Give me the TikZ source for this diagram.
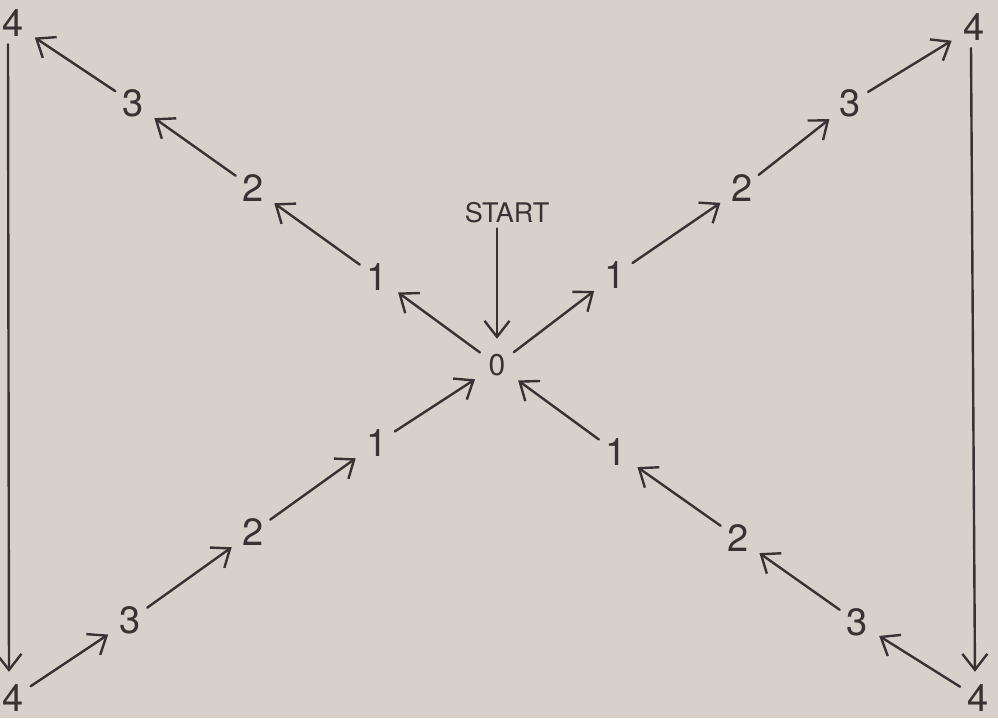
\documentclass[tikz,border=0pt]{standalone}
\usepackage{fontspec}
\setmainfont{TeX Gyre Heros}
\usetikzlibrary{arrows.meta}
\definecolor{paper}{RGB}{216,209,203}
\definecolor{ink}{RGB}{56,50,52}
\tikzset{
  lbl/.style={circle, inner sep=0pt, minimum size=42pt, text=ink, font=\fontsize{38}{38}\selectfont},
  conn/.style={draw=ink, line width=2.4pt, line cap=round, shorten >=5pt,
    -{Straight Barb[length=16pt,width=25pt,line width=2.4pt]}},
}
\begin{document}
\begin{tikzpicture}[x=1pt,y=-1pt]
\fill[paper] (0,0) rectangle (998,718);
\useasboundingbox (0,0) rectangle (998,718);
% centre and start
\node[lbl, font=\fontsize{30}{30}\selectfont] (zero) at (497,365) {0};
\node[text=ink, font=\fontsize{27}{27}\selectfont, inner sep=2pt] (start) at (507,213) {START};
% top-left branch
\node[lbl] (t1) at (377,277) {1};
\node[lbl] (t2) at (253,188) {2};
\node[lbl] (t3) at (133,103) {3};
\node[lbl] (t4) at (13,23) {4};
% top-right branch
\node[lbl] (r1) at (615,275) {1};
\node[lbl] (r2) at (742,188) {2};
\node[lbl] (r3) at (850,103) {3};
\node[lbl] (r4) at (974,27) {4};
% bottom-left branch
\node[lbl] (b1) at (377,443) {1};
\node[lbl] (b2) at (253,532) {2};
\node[lbl] (b3) at (130,620) {3};
\node[lbl] (b4) at (13,698) {4};
% bottom-right branch
\node[lbl] (d1) at (616,452) {1};
\node[lbl] (d2) at (738,538) {2};
\node[lbl] (d3) at (857,622) {3};
\node[lbl] (d4) at (978,698) {4};
% start arrow
\draw[conn, shorten <=3pt] (zero |- start.south) -- (zero);
% outward branches
\draw[conn] (zero) -- (t1);
\draw[conn] (t1) -- (t2);
\draw[conn] (t2) -- (t3);
\draw[conn] (t3) -- (t4);
\draw[conn] (zero) -- (r1);
\draw[conn] (r1) -- (r2);
\draw[conn] (r2) -- (r3);
\draw[conn] (r3) -- (r4);
% vertical sides
\draw[conn] (t4.south -| 8,0) -- (b4.north -| 9,0);
\draw[conn] (r4.south -| 971,0) -- (d4.north -| 975,0);
% inward branches
\draw[conn] (b4) -- (b3);
\draw[conn] (b3) -- (b2);
\draw[conn] (b2) -- (b1);
\draw[conn] (b1) -- (zero);
\draw[conn] (d4) -- (d3);
\draw[conn] (d3) -- (d2);
\draw[conn] (d2) -- (d1);
\draw[conn] (d1) -- (zero);
\end{tikzpicture}
\end{document}
